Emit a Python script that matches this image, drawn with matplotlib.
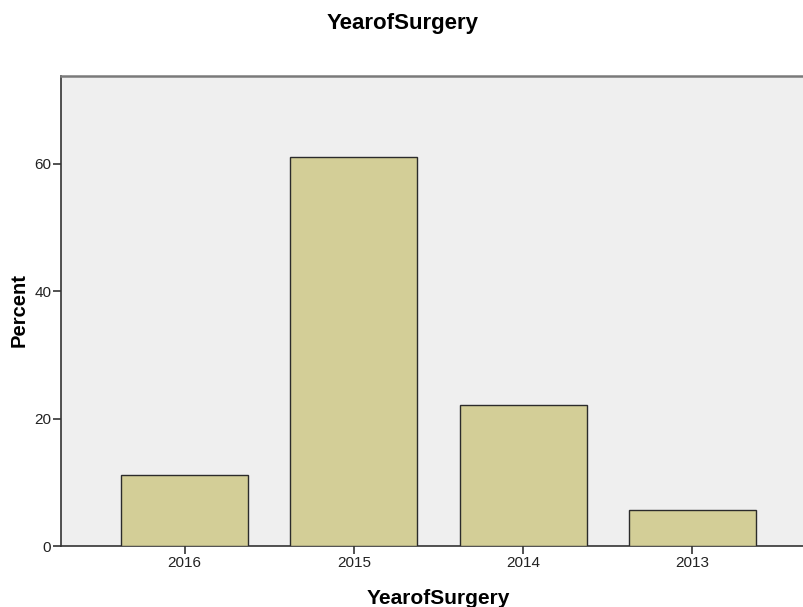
import matplotlib.pyplot as plt
import numpy as np

years = ["2016", "2015", "2014", "2013"]
percent = [11.1, 61.1, 22.2, 5.6]
y_ticks = [0, 20, 40, 60]

plt.rcParams['font.family'] = ['Liberation Sans', 'DejaVu Sans']

fig = plt.figure(figsize=(8.04, 6.07), dpi=100)
W, H = 804, 607
# plot area runs past the right edge of the picture, as in the original
ax = fig.add_axes([61 / W, (H - 546) / H, (816 - 61) / W, (546 - 76) / H])
ax.set_facecolor("#efefef")

x = np.arange(len(years))
ax.bar(x, percent, width=0.75, color="#d3ce97", edgecolor="#2b2b2b", linewidth=1.0, zorder=3)

ax.set_xlim(-0.73, len(years) - 1 + 0.73)
ax.set_ylim(0, 73.8)
ax.set_xticks(x)
ax.set_xticklabels(years)
ax.set_yticks(y_ticks)
ax.tick_params(axis="both", labelsize=11, length=5.5, width=1.2, color="#333333", pad=1.5,
               labelcolor="#222222")

for side in ["left", "bottom"]:
    ax.spines[side].set_color("#333333")
    ax.spines[side].set_linewidth(1.2)
ax.spines["top"].set_color("#7a7a7a")
ax.spines["top"].set_linewidth(1.8)
ax.spines["right"].set_visible(False)

ax.set_ylabel("Percent", fontsize=14.5, fontweight="bold", va="center")
ax.yaxis.set_label_coords(19 / W, 1 - 310 / H, transform=fig.transFigure)
ax.set_xlabel("YearofSurgery", fontsize=15, fontweight="bold", va="baseline")
ax.xaxis.set_label_coords(438.5 / W, 1 - 604 / H, transform=fig.transFigure)
fig.text(403 / W, 1 - 29 / H, "YearofSurgery", ha="center", va="baseline", fontsize=16, fontweight="bold")

fig.savefig("out.png", dpi=100)
